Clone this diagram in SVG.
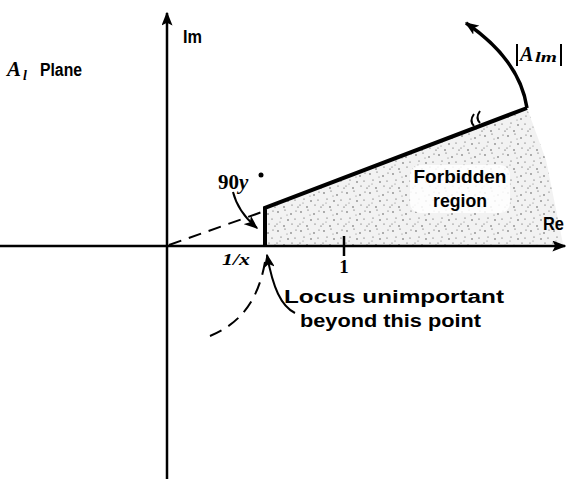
<svg xmlns="http://www.w3.org/2000/svg" width="566" height="479" viewBox="0 0 566 479">
<style>
.ax{stroke:#000;stroke-width:2.5;fill:none}
.thick{stroke:#000;stroke-width:4;fill:none;stroke-linejoin:miter}
.thin{stroke:#000;stroke-width:2;fill:none}
.dash{stroke:#000;stroke-width:2;fill:none;stroke-dasharray:13 8}
.lbl{font-family:"Liberation Sans",Arial,sans-serif;font-weight:bold;font-size:18px;fill:#000}
.math{font-family:"Liberation Serif","Times New Roman",serif;font-weight:bold;fill:#000}
</style>
<defs>
<marker id="ah" viewBox="0 0 10 10" refX="9" refY="5" markerWidth="14" markerHeight="11" orient="auto" markerUnits="userSpaceOnUse" preserveAspectRatio="none">
<path d="M0,0 L10,5 L0,10 L2,5 Z" fill="#000"/>
</marker>
<marker id="ahs" viewBox="0 0 10 10" refX="9" refY="5" markerWidth="14" markerHeight="11" orient="auto" markerUnits="userSpaceOnUse" preserveAspectRatio="none">
<path d="M0,0 L10,5 L0,10 L2.5,5 Z" fill="#000"/>
</marker>
<pattern id="stip" width="23" height="19" patternUnits="userSpaceOnUse">
<rect width="23" height="19" fill="#f2f2f2"/>
<circle cx="2" cy="3" r="0.7" fill="#333"/>
<circle cx="9" cy="1" r="0.6" fill="#444"/>
<circle cx="15" cy="5" r="0.7" fill="#333"/>
<circle cx="20" cy="2" r="0.6" fill="#555"/>
<circle cx="5" cy="9" r="0.6" fill="#444"/>
<circle cx="12" cy="11" r="0.7" fill="#333"/>
<circle cx="19" cy="10" r="0.6" fill="#444"/>
<circle cx="1" cy="15" r="0.6" fill="#555"/>
<circle cx="8" cy="17" r="0.7" fill="#333"/>
<circle cx="16" cy="15" r="0.6" fill="#444"/>
<circle cx="22" cy="17" r="0.6" fill="#333"/>
<circle cx="11" cy="6" r="0.5" fill="#666"/>
<circle cx="4" cy="13" r="0.5" fill="#666"/>
</pattern>
</defs>
<rect width="566" height="479" fill="#fff"/>

<g id="forbidden-region">
<polygon points="265,246 265,207 527,108 546,160 563,244" fill="url(#stip)"/>
<rect x="410" y="165" width="100" height="48" rx="10" fill="#fff" opacity="0.85"/>
<text class="lbl" x="460" y="183" text-anchor="middle" textLength="93" lengthAdjust="spacingAndGlyphs">Forbidden</text>
<text class="lbl" x="460" y="207" text-anchor="middle" textLength="54" lengthAdjust="spacingAndGlyphs">region</text>
</g>

<g id="axes">
<line class="ax" x1="167" y1="479" x2="167" y2="13" marker-end="url(#ah)"/>
<line class="ax" x1="0" y1="246" x2="565" y2="246" marker-end="url(#ah)"/>
<line class="ax" x1="344" y1="236" x2="344" y2="256"/>
<text class="lbl" x="183" y="43" font-size="18" textLength="19" lengthAdjust="spacingAndGlyphs">Im</text>
<text class="lbl" x="543" y="230" font-size="18" textLength="21" lengthAdjust="spacingAndGlyphs">Re</text>
</g>

<g id="plane-label">
<text x="7" y="76" class="math" font-style="italic" font-size="21">A</text>
<text x="23" y="80" class="math" font-style="italic" font-size="14">l</text>
<text class="lbl" x="40" y="76" font-size="16" textLength="42" lengthAdjust="spacingAndGlyphs">Plane</text>
</g>

<g id="locus">
<polyline class="thick" points="265,246 265,208 527,108"/>
<path d="M527,108 Q520,60 466,23" marker-end="url(#ahs)" stroke="#000" stroke-width="3.5" fill="none"/>
<path d="M474,126 q-5,-5 0,-12 M480,123 q-5,-5 0,-12" stroke="#000" stroke-width="2" fill="none"/>
<line class="dash" x1="169" y1="245" x2="262" y2="212"/>
</g>

<g id="abs-label">
<line x1="517" y1="44" x2="517" y2="66" stroke="#000" stroke-width="2"/>
<text x="520" y="61" class="math" font-style="italic" font-size="20">A</text>
<text x="535" y="62" class="math" font-style="italic" font-size="15" textLength="22" lengthAdjust="spacingAndGlyphs">lm</text>
<line x1="561" y1="44" x2="561" y2="66" stroke="#000" stroke-width="2"/>
</g>

<g id="angle-label">
<text x="218" y="189" class="math" font-size="21">90</text>
<text x="239" y="189" class="math" font-style="italic" font-size="21">y</text>
<circle cx="261" cy="175" r="2.5" fill="#000"/>
<path class="thin" d="M233,192 Q238,212 257,228" marker-end="url(#ahs)"/>
</g>

<g id="one-over-x">
<text x="222" y="265" class="math" font-style="italic" font-size="17" textLength="28" lengthAdjust="spacingAndGlyphs">1/x</text>
</g>

<g id="one">
<text x="344" y="273" class="math" font-size="19" text-anchor="middle">1</text>
</g>

<g id="locus-note">
<path class="thin" d="M295,313 C281,306 273,288 267,255" marker-end="url(#ahs)"/>
<path class="dash" d="M265,262 C259,296 244,322 210,336"/>
<text class="lbl" x="284" y="303" textLength="220" lengthAdjust="spacingAndGlyphs">Locus unimportant</text>
<text class="lbl" x="300" y="327" textLength="181" lengthAdjust="spacingAndGlyphs">beyond this point</text>
</g>
</svg>
